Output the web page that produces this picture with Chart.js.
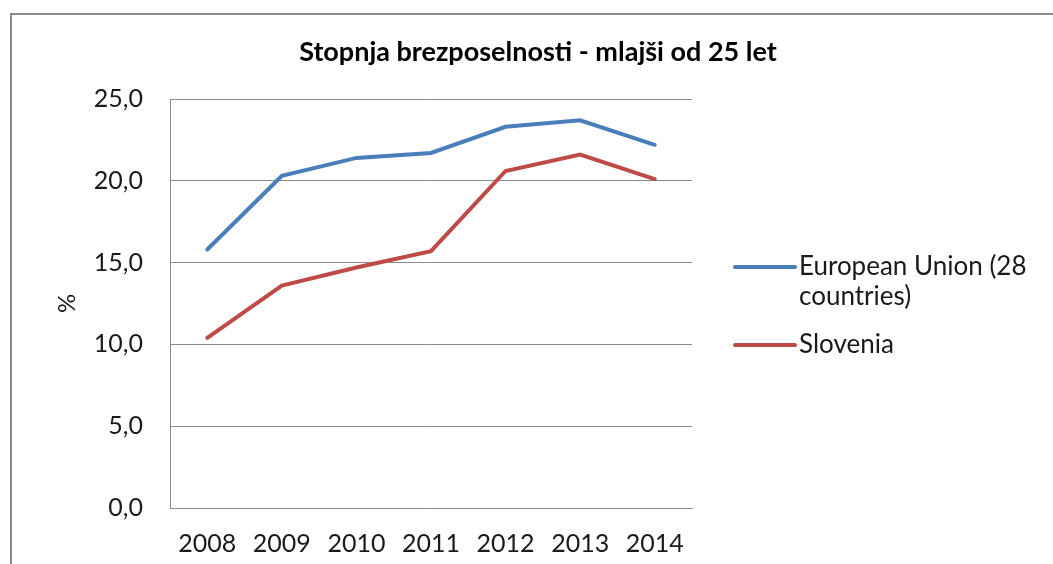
<!DOCTYPE html>
<html>
<head>
<meta charset="utf-8">
<script src="https://cdn.jsdelivr.net/npm/chart.js@4"></script>
<style>
  html, body { margin: 0; padding: 0; background: #fff; overflow: hidden; }
  #wrap { position: relative; width: 1053px; height: 564px; }
  #wrap canvas { position: absolute; left: 0; top: 0; }
  #frame { position: absolute; left: 10px; top: 13px; width: 1100px; height: 600px;
           border: 2px solid #8a8a8a; box-sizing: border-box; pointer-events: none; }
</style>
</head>
<body>
<div id="wrap">
  <canvas id="chart" width="1053" height="564"></canvas>
  <div id="frame"></div>
</div>
<script>
// podatki
const years = ['2008', '2009', '2010', '2011', '2012', '2013', '2014'];
const euValues = [15.8, 20.3, 21.4, 21.7, 23.3, 23.7, 22.2];
const sloValues = [10.4, 13.6, 14.7, 15.7, 20.6, 21.6, 20.1];
const seriesNames = ['European Union (28 countries)', 'Slovenia'];
const legendLines = [['European Union (28', 'countries)'], ['Slovenia']];
const chartTitle = 'Stopnja brezposelnosti - mlajši od 25 let';
const yAxisTitle = '%';

const textColor = '#1a1a1a';
const gridColor = '#8a8a8a';

// naslov in legenda desno (Chart.js legenda ne zna prelomiti vrstice)
const extras = {
  id: 'extras',
  afterDraw(chart) {
    const { ctx, chartArea } = chart;
    ctx.save();
    ctx.fillStyle = '#000';
    ctx.font = 'bold 27px Lato';
    ctx.textAlign = 'center';
    ctx.textBaseline = 'middle';
    ctx.fillText(chartTitle, 538, 52);

    const x = chartArea.right + 43;
    let y = chartArea.top + 168;
    ctx.font = '26px Lato';
    ctx.textAlign = 'left';
    chart.data.datasets.forEach((ds, i) => {
      ctx.strokeStyle = ds.borderColor;
      ctx.lineWidth = 4;
      ctx.lineCap = 'round';
      ctx.beginPath();
      ctx.moveTo(x, y);
      ctx.lineTo(x + 60, y);
      ctx.stroke();
      ctx.fillStyle = textColor;
      legendLines[i].forEach((t, j) => ctx.fillText(t, x + 64, y + j * 30));
      y += legendLines[i].length * 30 + 18;
    });
    ctx.restore();
  }
};

new Chart(document.getElementById('chart').getContext('2d'), {
  type: 'line',
  data: {
    labels: years,
    datasets: [
      { label: seriesNames[0], data: euValues, borderColor: '#4a7ebb', borderWidth: 4 },
      { label: seriesNames[1], data: sloValues, borderColor: '#be4b48', borderWidth: 4 },
    ],
  },
  options: {
    responsive: false,
    animation: false,
    events: [],
    elements: { point: { radius: 0 }, line: { tension: 0, borderCapStyle: 'round' } },
    layout: { padding: { left: 20, right: 361, top: 99, bottom: 0 } },
    plugins: { legend: { display: false }, title: { display: false }, tooltip: { enabled: false } },
    scales: {
      x: {
        offset: true,
        grid: { display: false, drawTicks: false },
        border: { display: true, color: gridColor, width: 1 },
        ticks: { color: textColor, font: { family: 'Lato', size: 25 }, padding: 21, maxRotation: 0 },
        afterFit(scale) { scale.height = 56; },
      },
      y: {
        min: 0,
        max: 25,
        ticks: {
          stepSize: 5,
          color: textColor,
          font: { family: 'Lato', size: 25 },
          padding: 27,
          callback: v => v.toFixed(1).replace('.', ','),
        },
        grid: { color: gridColor, lineWidth: 1, drawTicks: false },
        border: { display: true, color: gridColor, width: 1 },
        title: { display: true, text: yAxisTitle, color: textColor, font: { family: 'Lato', size: 24 }, padding: { top: 33 } },
        afterFit(scale) { scale.width = 150; },
      },
    },
  },
  plugins: [extras],
});
</script>
</body>
</html>
